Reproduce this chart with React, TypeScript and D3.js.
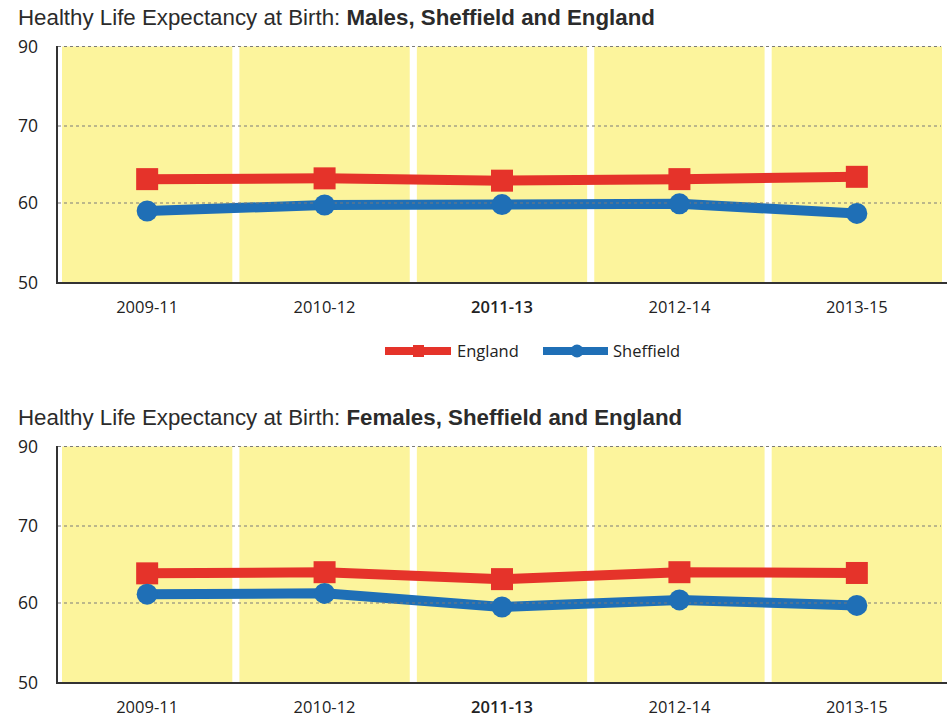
import * as d3 from "d3";
import { useEffect, useRef } from "react";

const periods = ["2009-11", "2010-12", "2011-13", "2012-14", "2013-15"];
const yTicks = [50, 60, 70, 90];

const malesEngland = [63.1, 63.2, 62.9, 63.1, 63.4];
const malesSheffield = [59.0, 59.75, 59.8, 59.9, 58.7];
const femalesEngland = [63.85, 64.0, 63.1, 64.0, 63.9];
const femalesSheffield = [61.15, 61.25, 59.5, 60.4, 59.7];

const RED = "#e5332a";
const BLUE = "#1f6fb6";
const YELLOW = "#fcf49c";

const W = 947;
const H = 718;

const drawPanel = (
  root: d3.Selection<SVGGElement, unknown, null, undefined>,
  label: string,
  england: number[],
  sheffield: number[],
  showLegend: boolean
) => {
  const left = 57;
  const top = 46.5;
  const bottom = 283;

  // title
  const title = root
    .append("text")
    .attr("x", 18)
    .attr("y", 25)
    .attr("font-family", "Liberation Sans, Arial, sans-serif")
    .attr("font-size", 22.3)
    .attr("fill", "#2b2b2b");
  title.append("tspan").attr("font-weight", 300).text("Healthy Life Expectancy at Birth: ");
  title.append("tspan").attr("font-weight", "bold").text(label);

  const x = d3
    .scaleBand<string>()
    .domain(periods)
    .range([62, 942])
    .paddingInner(0.04)
    .paddingOuter(0);

  // odd axis: ticks equally spaced though 90 follows 70
  const y = d3
    .scaleLinear()
    .domain(yTicks)
    .range([bottom, 203, 126, top]);

  // bands
  root
    .append("g")
    .selectAll("rect")
    .data(periods)
    .join("rect")
    .attr("x", (d) => x(d)!)
    .attr("y", top)
    .attr("width", x.bandwidth())
    .attr("height", bottom - top)
    .attr("fill", YELLOW);

  const cx = (i: number) => x(periods[i])! + x.bandwidth() / 2;

  const line = d3
    .line<number>()
    .x((_, i) => cx(i))
    .y((d) => y(d));

  root
    .append("path")
    .attr("fill", "none")
    .attr("stroke", RED)
    .attr("stroke-width", 10)
    .attr("d", line(england));

  root
    .append("path")
    .attr("fill", "none")
    .attr("stroke", BLUE)
    .attr("stroke-width", 10)
    .attr("d", line(sheffield));

  // gridlines
  root
    .append("g")
    .selectAll("line")
    .data(yTicks.filter((t) => t !== 50))
    .join("line")
    .attr("x1", left + 1)
    .attr("x2", 941)
    .attr("y1", (d) => y(d))
    .attr("y2", (d) => y(d))
    .attr("stroke", "#7a7a7a")
    .attr("stroke-width", 1.2)
    .attr("stroke-dasharray", "3,3");

  // markers
  root
    .append("g")
    .selectAll("rect")
    .data(england)
    .join("rect")
    .attr("x", (_, i) => cx(i) - 11)
    .attr("y", (d) => y(d) - 11)
    .attr("width", 22)
    .attr("height", 22)
    .attr("fill", RED);

  root
    .append("g")
    .selectAll("circle")
    .data(sheffield)
    .join("circle")
    .attr("cx", (_, i) => cx(i))
    .attr("cy", (d) => y(d))
    .attr("r", 10.5)
    .attr("fill", BLUE);

  // axes
  root
    .append("line")
    .attr("x1", left)
    .attr("x2", left)
    .attr("y1", top - 0.5)
    .attr("y2", bottom)
    .attr("stroke", "#333")
    .attr("stroke-width", 2);
  root
    .append("line")
    .attr("x1", left - 1)
    .attr("x2", W)
    .attr("y1", bottom)
    .attr("y2", bottom)
    .attr("stroke", "#333")
    .attr("stroke-width", 2);

  // y labels
  root
    .append("g")
    .selectAll("text")
    .data(yTicks)
    .join("text")
    .attr("x", 38)
    .attr("y", (d) => y(d))
    .attr("dy", "0.35em")
    .attr("text-anchor", "end")
    .attr("font-family", "Open Sans, sans-serif")
    .attr("font-size", 17.5)
    .attr("fill", "#222")
    .text((d) => d);

  // x labels
  root
    .append("g")
    .selectAll("text")
    .data(periods)
    .join("text")
    .attr("x", (d) => x(d)! + x.bandwidth() / 2)
    .attr("y", 313)
    .attr("text-anchor", "middle")
    .attr("font-family", "Open Sans, sans-serif")
    .attr("font-size", 16.5)
    .attr("font-weight", (d) => (d === "2011-13" ? 600 : 400))
    .attr("fill", "#222")
    .text((d) => d);

  if (showLegend) {
    const lg = root.append("g").attr("transform", "translate(0,351)");
    lg.append("line")
      .attr("x1", 385)
      .attr("x2", 451)
      .attr("stroke", RED)
      .attr("stroke-width", 8);
    lg.append("rect")
      .attr("x", 413)
      .attr("y", -6)
      .attr("width", 11)
      .attr("height", 12)
      .attr("fill", RED);
    lg.append("text")
      .attr("x", 457)
      .attr("dy", "0.35em")
      .attr("font-family", "Open Sans, sans-serif")
      .attr("font-size", 16.5)
      .attr("fill", "#222")
      .text("England");
    lg.append("line")
      .attr("x1", 543)
      .attr("x2", 608)
      .attr("stroke", BLUE)
      .attr("stroke-width", 8);
    lg.append("circle").attr("cx", 577).attr("r", 6.5).attr("fill", BLUE);
    lg.append("text")
      .attr("x", 613)
      .attr("dy", "0.35em")
      .attr("font-family", "Open Sans, sans-serif")
      .attr("font-size", 16.5)
      .attr("fill", "#222")
      .text("Sheffield");
  }
};

const Charts = () => {
  const svgRef = useRef<SVGSVGElement>(null);

  useEffect(() => {
    const svg = d3.select(svgRef.current);
    svg.selectChildren("*").remove();

    const top = svg.append("g") as d3.Selection<SVGGElement, unknown, null, undefined>;
    drawPanel(top, "Males, Sheffield and England", malesEngland, malesSheffield, true);

    const bottom = svg
      .append("g")
      .attr("transform", "translate(0,400)") as d3.Selection<SVGGElement, unknown, null, undefined>;
    drawPanel(bottom, "Females, Sheffield and England", femalesEngland, femalesSheffield, false);
  }, []);

  return (
    <svg
      ref={svgRef}
      width={W}
      height={H}
      style={{ position: "absolute", left: 0, top: 0, background: "#fff" }}
    ></svg>
  );
};

export default function App() {
  return <Charts />;
}
